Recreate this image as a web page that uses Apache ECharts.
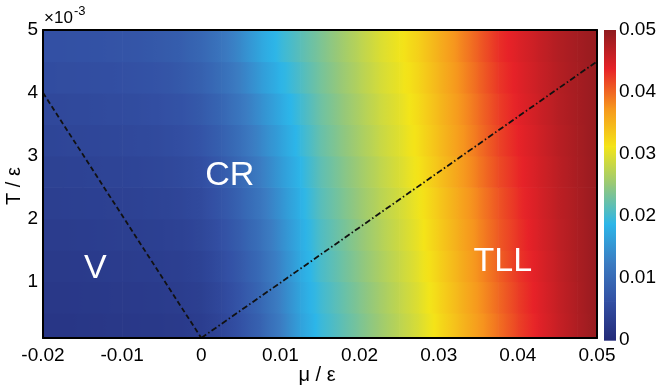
<!DOCTYPE html>
<html><head><meta charset="utf-8">
<script src="https://cdn.jsdelivr.net/npm/echarts@6/dist/echarts.min.js"></script>
<style>html,body{margin:0;padding:0;background:#fff}#chart{width:661px;height:386px}</style>
</head><body><div id="chart"></div>
<script>
// ---- data ----
const muValues = [-0.02,-0.0175,-0.015,-0.0125,-0.01,-0.0075,-0.005,-0.0025,0,0.0025,0.005,0.0075,0.01,0.0125,0.015,0.0175,0.02,0.0225,0.025,0.0275,0.03,0.0325,0.035,0.0375,0.04,0.0425,0.045,0.0475,0.05];
const tValues = [0.00025,0.00075,0.00125,0.00175,0.00225,0.00275,0.00325,0.00375,0.00425,0.00475];
const z_T0_25 = [0.0020,0.0020,0.0021,0.0022,0.0023,0.0024,0.0025,0.0027,0.0032,0.0045,0.0065,0.0090,0.0125,0.0165,0.0195,0.0215,0.0235,0.0255,0.0275,0.0295,0.0320,0.0345,0.0370,0.0395,0.0420,0.0440,0.0460,0.0478,0.0495];
const z_T0_75 = [0.0023,0.0023,0.0024,0.0025,0.0026,0.0027,0.0029,0.0031,0.0036,0.0050,0.0070,0.0096,0.0130,0.0169,0.0199,0.0219,0.0239,0.0259,0.0279,0.0299,0.0324,0.0349,0.0374,0.0399,0.0423,0.0442,0.0462,0.0479,0.0495];
const z_T1_25 = [0.0026,0.0026,0.0027,0.0029,0.0030,0.0031,0.0033,0.0035,0.0041,0.0056,0.0076,0.0102,0.0136,0.0173,0.0204,0.0224,0.0244,0.0264,0.0283,0.0303,0.0328,0.0353,0.0378,0.0403,0.0426,0.0444,0.0463,0.0480,0.0495];
const z_T1_75 = [0.0030,0.0030,0.0031,0.0033,0.0034,0.0035,0.0037,0.0040,0.0047,0.0062,0.0083,0.0109,0.0142,0.0177,0.0208,0.0228,0.0248,0.0268,0.0287,0.0307,0.0332,0.0357,0.0382,0.0407,0.0428,0.0447,0.0465,0.0480,0.0495];
const z_T2_25 = [0.0034,0.0035,0.0036,0.0037,0.0038,0.0040,0.0042,0.0046,0.0053,0.0069,0.0091,0.0117,0.0149,0.0182,0.0213,0.0233,0.0253,0.0273,0.0290,0.0310,0.0335,0.0360,0.0385,0.0410,0.0431,0.0449,0.0467,0.0481,0.0495];
const z_T2_75 = [0.0039,0.0039,0.0040,0.0042,0.0043,0.0045,0.0048,0.0052,0.0060,0.0077,0.0099,0.0126,0.0157,0.0188,0.0217,0.0237,0.0257,0.0277,0.0295,0.0315,0.0340,0.0365,0.0390,0.0415,0.0434,0.0451,0.0468,0.0482,0.0495];
const z_T3_25 = [0.0044,0.0045,0.0046,0.0047,0.0049,0.0051,0.0054,0.0059,0.0068,0.0085,0.0108,0.0136,0.0165,0.0194,0.0222,0.0242,0.0262,0.0282,0.0299,0.0319,0.0344,0.0369,0.0394,0.0419,0.0437,0.0453,0.0470,0.0483,0.0495];
const z_T3_75 = [0.0049,0.0050,0.0051,0.0053,0.0055,0.0057,0.0061,0.0066,0.0076,0.0094,0.0118,0.0146,0.0174,0.0200,0.0226,0.0246,0.0266,0.0286,0.0302,0.0322,0.0347,0.0372,0.0397,0.0422,0.0440,0.0456,0.0472,0.0484,0.0495];
const z_T4_25 = [0.0056,0.0057,0.0058,0.0059,0.0061,0.0064,0.0068,0.0075,0.0086,0.0105,0.0129,0.0158,0.0185,0.0208,0.0231,0.0251,0.0271,0.0291,0.0306,0.0326,0.0351,0.0376,0.0401,0.0426,0.0442,0.0458,0.0473,0.0484,0.0495];
const z_T4_75 = [0.0062,0.0063,0.0064,0.0066,0.0068,0.0071,0.0076,0.0083,0.0095,0.0115,0.0140,0.0170,0.0195,0.0215,0.0235,0.0255,0.0275,0.0295,0.0310,0.0330,0.0355,0.0380,0.0405,0.0430,0.0445,0.0460,0.0475,0.0485,0.0495];
const zRows = [z_T0_25,z_T0_75,z_T1_25,z_T1_75,z_T2_25,z_T2_75,z_T3_25,z_T3_75,z_T4_25,z_T4_75];

const yTickValues = [0.001,0.002,0.003,0.004,0.005];
const colorbarMin = 0, colorbarMax = 0.05;
const cmapColors = ['#232a78','#3350a4','#3b7cc2','#2cb6e9','#95c87a','#f4e518','#f6951e','#e72228','#8f1b1f'];

const vBoundaryMu = [-0.02, 0];
const vBoundaryT = [0.004, 0.0001];
const tllBoundaryMu = [0, 0.05];
const tllBoundaryT = [0.0001, 0.0045];

const regionNames = ['V','CR','TLL'];
const regionMu = [-0.0134, 0.0036, 0.0381];
const regionT = [0.00121, 0.00268, 0.00131];

// ---- colormap helpers ----
function hexToRgb(h){return [parseInt(h.slice(1,3),16),parseInt(h.slice(3,5),16),parseInt(h.slice(5,7),16)];}
const cmapRgb = cmapColors.map(hexToRgb);
function cmap(v){
  const n = cmapRgb.length;
  let f = (v - colorbarMin)/(colorbarMax - colorbarMin);
  f = Math.max(0, Math.min(1, f)) * (n-1);
  const i = Math.min(n-2, Math.floor(f));
  const t = f - i;
  const a = cmapRgb[i], b = cmapRgb[i+1];
  return 'rgb(' + [0,1,2].map(k => Math.round(a[k] + (b[k]-a[k])*t)).join(',') + ')';
}

const cellData = [];
zRows.forEach((row, j) => {
  for (let i = 0; i < muValues.length - 1; i++) {
    cellData.push([muValues[i], muValues[i+1], tValues[j], row[i], row[i+1]]);
  }
});
const dT = tValues[1] - tValues[0];

const cbLevels = cmapColors.map((c, k) => colorbarMin + (colorbarMax - colorbarMin) * k / (cmapColors.length - 1));
const cbData = [];
for (let k = 0; k < cbLevels.length - 1; k++) cbData.push([cbLevels[k], cbLevels[k+1]]);

const FONT = 'Liberation Sans, Arial, sans-serif';
const chart = echarts.init(document.getElementById('chart'), null, {renderer: 'canvas'});

const axisLineStyle = {show: true, onZero: false, lineStyle: {color: '#000', width: 2}};
chart.setOption({
  animation: false,
  backgroundColor: '#fff',
  grid: [
    {left: 43, top: 30, width: 554, height: 308, containLabel: false},
    {left: 604, top: 30, width: 12, height: 310, containLabel: false}
  ],
  xAxis: [
    {type: 'value', gridIndex: 0, min: -0.02, max: 0.05, interval: 0.01, position: 'bottom', z: 10,
     axisLine: axisLineStyle, axisTick: {show: false}, splitLine: {show: false},
     axisLabel: {color: '#000', fontSize: 19, fontFamily: FONT, margin: 8,
       formatter: v => { const r = Number(v.toFixed(3)); return r === 0 ? '0' : String(r); }}},
    {type: 'value', gridIndex: 0, min: -0.02, max: 0.05, position: 'top', z: 10,
     axisLine: axisLineStyle, axisTick: {show: false}, splitLine: {show: false}, axisLabel: {show: false}},
    {type: 'value', gridIndex: 1, min: 0, max: 1, show: false}
  ],
  yAxis: [
    {type: 'value', gridIndex: 0, min: 0.0001, max: 0.005, position: 'left', z: 10,
     axisLine: axisLineStyle, splitLine: {show: false},
     axisTick: {show: false, customValues: yTickValues},
     axisLabel: {color: '#000', fontSize: 19, fontFamily: FONT, margin: 5, customValues: yTickValues,
       formatter: v => String(Math.round(v * 1000))}},
    {type: 'value', gridIndex: 0, min: 0.0001, max: 0.005, position: 'right', z: 10,
     axisLine: axisLineStyle, axisTick: {show: false}, splitLine: {show: false}, axisLabel: {show: false}},
    {type: 'value', gridIndex: 1, min: colorbarMin, max: colorbarMax, interval: 0.01, position: 'right',
     axisLine: {show: false}, axisTick: {show: false}, splitLine: {show: false},
     axisLabel: {color: '#000', fontSize: 19, fontFamily: FONT, margin: 3,
       formatter: v => { const r = Number(v.toFixed(3)); return r === 0 ? '0' : r.toFixed(2); }}}
  ],
  series: [
    {
      type: 'custom', xAxisIndex: 0, yAxisIndex: 0, clip: true, z: 1,
      encode: {x: [0, 1], y: 2},
      data: cellData,
      renderItem: (params, api) => {
        const m0 = api.value(0), m1 = api.value(1), t = api.value(2);
        const v0 = api.value(3), v1 = api.value(4);
        const p0 = api.coord([m0, t + dT/2]);
        const p1 = api.coord([m1, t - dT/2]);
        const stops = [0, 0.25, 0.5, 0.75, 1].map(o => ({offset: o, color: cmap(v0 + (v1 - v0) * o)}));
        return {
          type: 'rect',
          shape: {x: p0[0], y: p0[1], width: p1[0] - p0[0] + 0.7, height: p1[1] - p0[1] + 0.7},
          style: {fill: new echarts.graphic.LinearGradient(0, 0, 1, 0, stops)}
        };
      }
    },
    {
      type: 'line', xAxisIndex: 0, yAxisIndex: 0, z: 5, symbol: 'none', silent: true,
      data: vBoundaryMu.map((m, i) => [m, vBoundaryT[i]]),
      lineStyle: {color: '#111', width: 1.8, type: [5, 3]}
    },
    {
      type: 'line', xAxisIndex: 0, yAxisIndex: 0, z: 5, symbol: 'none', silent: true,
      data: tllBoundaryMu.map((m, i) => [m, tllBoundaryT[i]]),
      lineStyle: {color: '#111', width: 1.8, type: [6, 2.5, 1.5, 2.5]}
    },
    {
      type: 'scatter', xAxisIndex: 0, yAxisIndex: 0, z: 6, symbolSize: 1, silent: true,
      itemStyle: {color: 'rgba(0,0,0,0)', opacity: 1},
      data: regionNames.map((n, i) => ({name: n, value: [regionMu[i], regionT[i]]})),
      label: {show: true, position: 'inside', formatter: p => p.name, color: '#ffffff', opacity: 1,
              textBorderWidth: 0, fontSize: 34, fontFamily: FONT}
    },
    {
      type: 'custom', xAxisIndex: 2, yAxisIndex: 2, z: 1,
      encode: {y: [0, 1]},
      data: cbData,
      renderItem: (params, api) => {
        const a = api.value(0), b = api.value(1);
        const p0 = api.coord([0, b]);
        const p1 = api.coord([1, a]);
        return {
          type: 'rect',
          shape: {x: p0[0], y: p0[1], width: p1[0] - p0[0], height: p1[1] - p0[1] + 0.7},
          style: {fill: new echarts.graphic.LinearGradient(0, 1, 0, 0, [
            {offset: 0, color: cmap(a)}, {offset: 1, color: cmap(b)}])}
        };
      }
    }
  ],
  graphic: [
    {type: 'text', left: 44, top: 10, style: {text: '\u00d710', fontSize: 17, fontFamily: FONT, fill: '#000'}},
    {type: 'text', left: 74, top: 5, style: {text: '-3', fontSize: 13, fontFamily: FONT, fill: '#000'}},
    {type: 'text', x: 14, y: 186, rotation: Math.PI / 2,
     style: {text: 'T / \u03b5', fontSize: 20, fontFamily: FONT, fill: '#000', align: 'center', verticalAlign: 'middle'}},
    {type: 'text', x: 317, y: 375,
     style: {text: '\u03bc / \u03b5', fontSize: 20, fontFamily: FONT, fill: '#000', align: 'center', verticalAlign: 'middle'}}
  ]
});
</script></body></html>
